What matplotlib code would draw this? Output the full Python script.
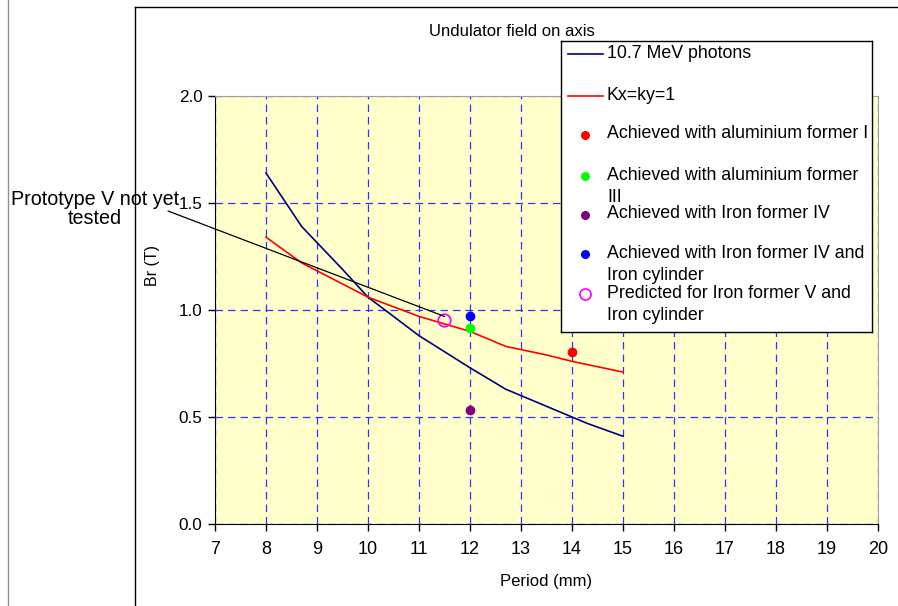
import matplotlib
matplotlib.use('Agg')
import matplotlib.pyplot as plt
from matplotlib.lines import Line2D
from matplotlib import font_manager

plt.rcParams['font.family'] = ['Liberation Sans', 'DejaVu Sans']
names = set(f.name for f in font_manager.fontManager.ttflist)
narrow = 'Liberation Sans Narrow' if 'Liberation Sans Narrow' in names else 'Liberation Sans'

# 10.7 MeV photons curve
period_photons = [8, 8.7, 9.5, 10, 11, 12, 12.7, 14, 14.3, 15]
br_photons = [1.64, 1.39, 1.19, 1.06, 0.88, 0.73, 0.63, 0.50, 0.47, 0.41]

# Kx=ky=1 curve
period_k1 = [8, 8.7, 10, 11, 12, 12.7, 13.5, 14, 15]
br_k1 = [1.34, 1.22, 1.06, 0.97, 0.90, 0.83, 0.79, 0.76, 0.71]

# measured / predicted points
pt_labels = ['Achieved with aluminium former I',
             'Achieved with aluminium former\nIII',
             'Achieved with Iron former IV',
             'Achieved with Iron former IV and\nIron cylinder',
             'Predicted for Iron former V and\nIron cylinder']
pt_period = [14, 12, 12, 12, 11.5]
pt_br = [0.805, 0.914, 0.533, 0.973, 0.953]
pt_colors = ['#FF0000', '#00FF00', '#800080', '#0000FF', '#FF00FF']
pt_filled = [True, True, True, True, False]

line_labels = ['10.7 MeV photons', 'Kx=ky=1']
line_colors = ['#000080', '#FF0000']

x_ticks = list(range(7, 21))
y_ticks = [0.0, 0.5, 1.0, 1.5, 2.0]

W, H = 898, 606
fig = plt.figure(figsize=(W / 100, H / 100), dpi=100)
fig.patch.set_facecolor('white')

# outer frames
fig.add_artist(Line2D([8 / W, 8 / W], [0, 1], color='#909090', lw=1))
fig.add_artist(Line2D([135 / W, 135 / W], [0, 1 - 7 / H], color='black', lw=1))
fig.add_artist(Line2D([135 / W, 1], [1 - 7 / H, 1 - 7 / H], color='black', lw=1))

ax = fig.add_axes([215 / W, 1 - 524 / H, (878 - 215) / W, (524 - 96) / H])
ax.set_facecolor('#FFFFCC')
ax.set_xlim(7, 20)
ax.set_ylim(0, 2)
ax.set_xticks(x_ticks)
ax.set_xticklabels([str(v) for v in x_ticks], family=[narrow, 'DejaVu Sans'], fontsize=13)
ax.set_yticks(y_ticks)
ax.set_yticklabels(['%.1f' % v for v in y_ticks], fontsize=12.3)
ax.grid(True, color='#3333FF', linestyle=(0, (6, 4)), lw=0.9)
ax.tick_params(direction='out', length=5, width=1)
ax.tick_params(axis='x', pad=7)
ax.tick_params(axis='y', pad=4)
for s in ['top', 'right']:
    ax.spines[s].set_color('#A0A0A0')
for s in ['left', 'bottom']:
    ax.spines[s].set_color('black')

ax.plot(period_photons, br_photons, color=line_colors[0], lw=1.2, zorder=3)
ax.plot(period_k1, br_k1, color=line_colors[1], lw=1.2, zorder=3)
for x, y, c, f in zip(pt_period, pt_br, pt_colors, pt_filled):
    if f:
        ax.plot([x], [y], 'o', color=c, ms=6, zorder=4)
    else:
        ax.plot([x], [y], 'o', mfc='none', mec=c, ms=9, mew=1.3, zorder=4)

ax.set_xlabel('Period (mm)', fontsize=12, family=[narrow, 'DejaVu Sans'], labelpad=12)
ax.set_ylabel('Br (T)', fontsize=11.5)
ax.yaxis.set_label_coords((160 - 215) / 663, (524 - 266) / 428)

fig.text(512 / W, 1 - 31 / H, 'Undulator field on axis', ha='center', va='center', fontsize=12)

# annotation
fig.text(95 / W, 1 - 209 / H, 'Prototype V not yet\ntested', ha='center', va='center',
         fontsize=14.2, linespacing=1.0)
ax.annotate('', xy=(11.5, 0.97), xytext=(168, H - 211), textcoords='figure pixels',
            arrowprops=dict(arrowstyle='-', color='black', lw=0.9, shrinkA=0, shrinkB=0),
            annotation_clip=False, zorder=5)

# legend box
lx0, lx1, ly0, ly1 = 561, 872, 41, 332
lax = fig.add_axes([lx0 / W, 1 - ly1 / H, (lx1 - lx0) / W, (ly1 - ly0) / H])
lax.set_xlim(lx0, lx1)
lax.set_ylim(ly1, ly0)
lax.set_xticks([])
lax.set_yticks([])
lax.set_facecolor('white')
for s in lax.spines.values():
    s.set_color('black')
    s.set_linewidth(1)

text_x = 607
fs = 12.8
row_y = [53, 95, 134, 175, 214, 253, 293]
for i in range(2):
    lax.plot([568, 603], [row_y[i] + 1, row_y[i] + 1], color=line_colors[i], lw=1.2)
    lax.text(text_x, row_y[i], line_labels[i], va='center', fontsize=fs)
for i in range(5):
    y = row_y[i + 2]
    if pt_filled[i]:
        lax.plot([585], [y + 1], 'o', color=pt_colors[i], ms=5.5)
    else:
        lax.plot([585], [y + 1], 'o', mfc='none', mec=pt_colors[i], ms=8, mew=1.2)
    lines = pt_labels[i].split('\n')
    for j, t in enumerate(lines):
        lax.text(text_x, y + 22 * j, t, va='center', fontsize=fs)

fig.savefig('out.png', dpi=100)
